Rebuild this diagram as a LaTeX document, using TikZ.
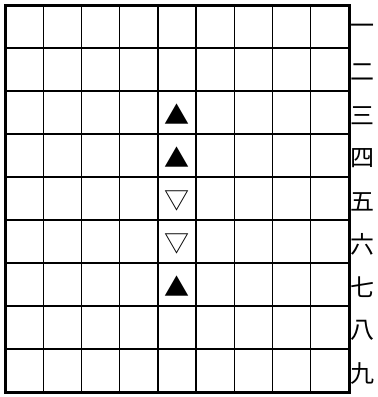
\documentclass[tikz,border=0pt]{standalone}
\usepackage{fontspec}
\newfontfamily\jpfont{Noto Sans CJK JP}
\usetikzlibrary{positioning}
\tikzset{
  gridline/.style={line width=1.4pt},
  boardedge/.style={line width=3pt},
  ranklabel/.style={font=\jpfont\fontsize{24}{24}\selectfont, inner sep=0pt},
  piece/.style={font=\jpfont\fontsize{25}{25}\selectfont, inner sep=0pt}
}
\begin{document}
\begin{tikzpicture}[x=1pt,y=-1pt]
  \useasboundingbox (0,0) rectangle (378,397);
  % grid lines
  \foreach \i in {1,...,8} {
    \draw[gridline] ({5+\i*344/9},5) -- ({5+\i*344/9},392);
    \draw[gridline] (5,{5+\i*43}) -- (349,{5+\i*43});
  }
  \draw[boardedge] (5,5) rectangle (349,392);
  % rank labels
  \foreach \r/\k in {1/一,2/二,3/三,4/四,5/五,6/六,7/七,8/八,9/九}
    \node[ranklabel] (rank\r) at (362,{8+(\r-0.5)*43}) {\k};
  % pieces on file 5
  \foreach \r/\p in {3/▲,4/▲,5/▽,6/▽,7/▲}
    \node[piece] (sq5\r) at ({5+4.5*344/9},{7+(\r-0.5)*43}) {\p};
\end{tikzpicture}
\end{document}
